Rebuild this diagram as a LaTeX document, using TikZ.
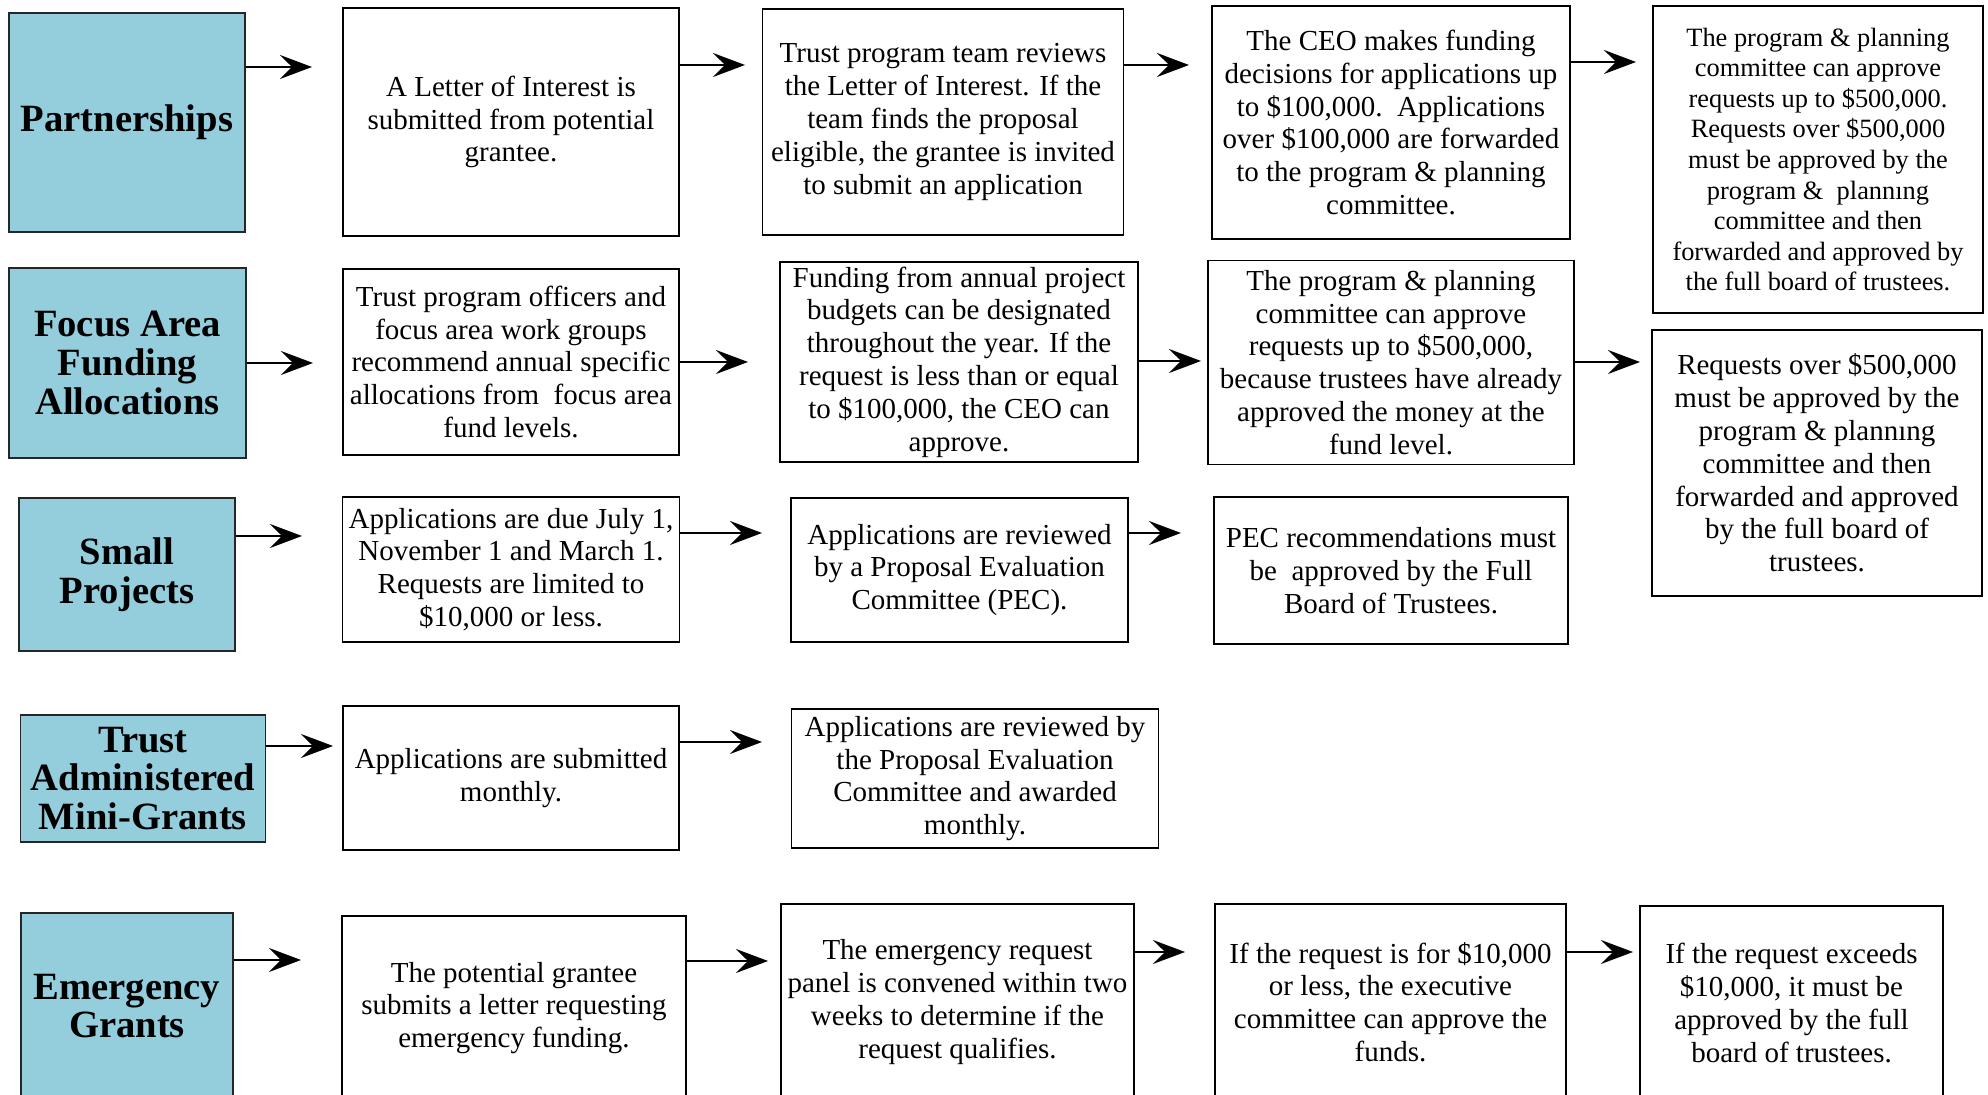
\documentclass[tikz,border=0pt]{standalone}
\usepackage{fontspec}
\setmainfont{Liberation Serif}
\usetikzlibrary{arrows.meta}
\definecolor{catblue}{RGB}{148,205,220}
\tikzset{
  box/.style 2 args={draw=black, line width=0.9pt, fill=white, minimum width=#1*0.5pt, minimum height=#2*0.5pt, inner sep=0pt, align=center, font=\fontsize{14.5}{16.4}\selectfont},
  smallbox/.style 2 args={box={#1}{#2}, font=\fontsize{13.2}{15.3}\selectfont},
  cat/.style 2 args={box={#1}{#2}, fill=catblue, draw=black!85, font=\bfseries\fontsize{19.3}{19.4}\selectfont},
  arr/.style={line width=0.9pt, -{Stealth[length=16pt,width=12pt,inset=6pt]}}
}
\begin{document}
\begin{tikzpicture}[x=0.5pt,y=-0.5pt]
\useasboundingbox (0,0) rectangle (1988,1095);
\fill[white] (0,0) rectangle (1988,1095);
\clip (0,0) rectangle (1988,1095);

% Row 1
\node[cat={236}{219}] (P1) at (127,122.5) {Partnerships};
\node[box={336}{228}] (L1) at (511,122) {A Letter of Interest is\\submitted from potential\\grantee.};
\node[box={361}{226}] (T1) at (943,122) {Trust program team reviews\\the Letter of Interest. If the\\team finds the proposal\\eligible, the grantee is invited\\to submit an application};
\node[box={358}{233}] (C1) at (1391,122.5) {The CEO makes funding\\decisions for applications up\\to \$100,000.\ \ Applications\\over \$100,000 are forwarded\\to the program \& planning\\committee.};
\node[smallbox={330}{307}] (Q1) at (1818,159.5) {The program \& planning\\committee can approve\\requests up to \$500,000.\\Requests over \$500,000\\must be approved by the\\program \&\ \ plannıng\\committee and then\\forwarded and approved by\\the full board of trustees.};

% Row 2
\node[cat={237}{190}] (F2) at (127.5,363) {Focus Area\\Funding\\Allocations};
\node[box={336}{186}] (O2) at (511,362) {Trust program officers and\\focus area work groups\\recommend annual specific\\allocations from\ \ focus area\\fund levels.};
\node[box={358}{200}] (Fu2) at (959,362) {Funding from annual project\\budgets can be designated\\throughout the year. If the\\request is less than or equal\\to \$100,000, the CEO can\\approve.};
\node[box={366}{204}] (Q2) at (1391,362.5) {The program \& planning\\committee can approve\\requests up to \$500,000,\\because trustees have already\\approved the money at the\\fund level.};
\node[box={330}{266}] (R2) at (1817,463) {Requests over \$500,000\\must be approved by the\\program \& plannıng\\committee and then\\forwarded and approved\\by the full board of\\trustees.};

% Row 3
\node[cat={216}{153}] (S3) at (127,574.5) {Small\\Projects};
\node[box={337}{145}] (A3) at (511,569.5) {Applications are due July 1,\\November 1 and March 1.\\Requests are limited to\\\$10,000 or less.};
\node[box={337}{144}] (V3) at (959.5,570) {Applications are reviewed\\by a Proposal Evaluation\\Committee (PEC).};
\node[box={354}{147}] (E3) at (1391,570.5) {PEC recommendations must\\be\ \ approved by the Full\\Board of Trustees.};

% Row 4
\node[cat={245}{127}] (M4) at (143,778.5) {Trust\\Administered\\Mini-Grants};
\node[box={336}{144}] (B4) at (511,778) {Applications are submitted\\monthly.};
\node[box={367}{139}] (W4) at (975,778.5) {Applications are reviewed by\\the Proposal Evaluation\\Committee and awarded\\monthly.};

% Row 5
\node[cat={212}{186}] (G5) at (127,1006) {Emergency\\Grants};
\node[box={344}{184}] (P5) at (514,1008) {The potential grantee\\submits a letter requesting\\emergency funding.};
\node[box={353}{196}] (N5) at (957.5,1002) {The emergency request\\panel is convened within two\\weeks to determine if the\\request qualifies.};
\node[box={351}{196}] (I5) at (1390.5,1002) {If the request is for \$10,000\\or less, the executive\\committee can approve the\\funds.};
\node[box={303}{194}] (X5) at (1791.5,1003) {If the request exceeds\\\$10,000, it must be\\approved by the full\\board of trustees.};

% Arrow end coordinates
\coordinate (e11) at (312,67);
\coordinate (e12) at (745,65);
\coordinate (e13) at (1189,65);
\coordinate (e14) at (1636,62);
\coordinate (e21) at (313,363);
\coordinate (e22) at (748,362);
\coordinate (e23) at (1201,361);
\coordinate (e24) at (1640,362);
\coordinate (e31) at (302,536);
\coordinate (e32) at (762,533);
\coordinate (e33) at (1181,533);
\coordinate (e41) at (333,746);
\coordinate (e42) at (762,742);
\coordinate (e51) at (301,960);
\coordinate (e52) at (768,961);
\coordinate (e53) at (1185,952);
\coordinate (e54) at (1633,952);

\draw[arr] (P1.east |- e11) -- (e11);
\draw[arr] (L1.east |- e12) -- (e12);
\draw[arr] (T1.east |- e13) -- (e13);
\draw[arr] (C1.east |- e14) -- (e14);
\draw[arr] (F2.east |- e21) -- (e21);
\draw[arr] (O2.east |- e22) -- (e22);
\draw[arr] (Fu2.east |- e23) -- (e23);
\draw[arr] (Q2.east |- e24) -- (e24);
\draw[arr] (S3.east |- e31) -- (e31);
\draw[arr] (A3.east |- e32) -- (e32);
\draw[arr] (V3.east |- e33) -- (e33);
\draw[arr] (M4.east |- e41) -- (e41);
\draw[arr] (B4.east |- e42) -- (e42);
\draw[arr] (G5.east |- e51) -- (e51);
\draw[arr] (P5.east |- e52) -- (e52);
\draw[arr] (N5.east |- e53) -- (e53);
\draw[arr] (I5.east |- e54) -- (e54);
\end{tikzpicture}
\end{document}
